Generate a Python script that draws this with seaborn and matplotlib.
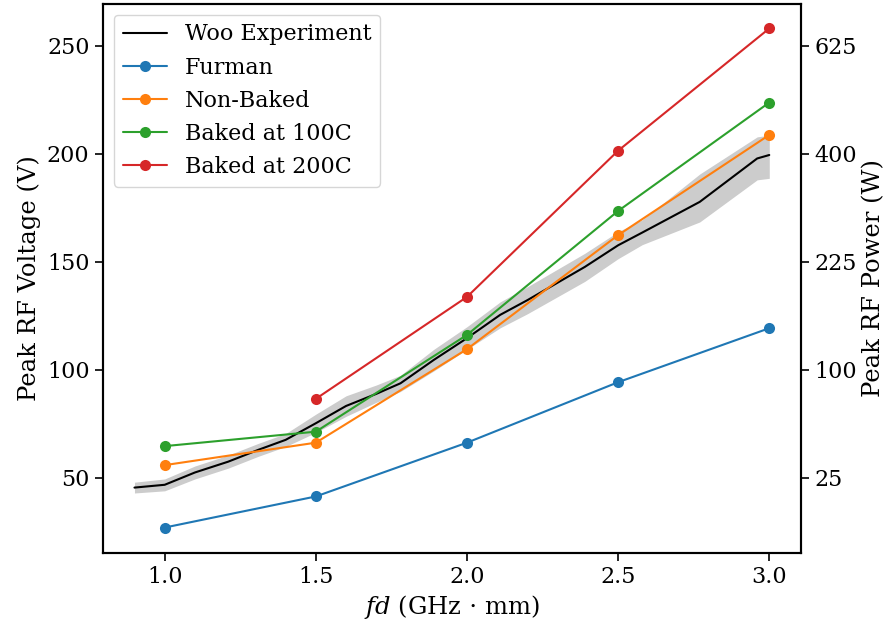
import matplotlib
matplotlib.use("Agg")
import matplotlib.pyplot as plt
import seaborn as sns
import numpy as np
import pandas as pd

# ---- data ----
fd_points = [1.0, 1.5, 2.0, 2.5, 3.0]
furman = [27.0, 41.4, 66.3, 94.3, 119.3]
non_baked = [55.9, 66.3, 109.6, 162.4, 208.8]
baked_100 = [64.7, 71.4, 116.2, 173.6, 223.8]
baked_200_fd = [1.5, 2.0, 2.5, 3.0]
baked_200 = [86.6, 133.8, 201.5, 258.1]

woo_fd = [0.9, 1.0, 1.1, 1.21, 1.31, 1.40, 1.5, 1.6, 1.70, 1.78, 1.89, 2.0,
          2.11, 2.2, 2.39, 2.5, 2.58, 2.77, 2.96, 3.0]
woo_v = [45.5, 46.8, 52.5, 57.5, 63.0, 67.6, 75.3, 83.3, 88.9, 93.8, 104.6, 114.7,
         125.5, 132.3, 147.7, 157.7, 163.6, 177.8, 197.9, 199.5]
woo_lo = [43.0, 44.0, 49.5, 54.5, 60.0, 64.5, 71.0, 78.5, 85.0, 90.0, 99.5, 109.5,
          119.5, 126.0, 141.0, 151.5, 158.0, 168.5, 188.0, 188.7]
woo_hi = [48.0, 49.5, 55.5, 60.5, 66.0, 70.5, 79.5, 88.0, 93.0, 97.5, 109.5, 120.0,
          131.5, 138.5, 154.0, 164.0, 169.5, 190.7, 207.9, 208.7]

power_ticks_v = [50, 100, 150, 200, 250]
power_labels = ["25", "100", "225", "400", "625"]

# ---- style ----
sns.set_theme(style="ticks")
plt.rcParams["font.family"] = ["DejaVu Serif"]
plt.rcParams["mathtext.fontset"] = "dejavuserif"
fs_tick = 16
fs_label = 17.5
fs_leg = 16
plt.rcParams.update({
    "axes.edgecolor": "black",
    "axes.linewidth": 1.5,
    "xtick.major.width": 1.2,
    "ytick.major.width": 1.2,
    "xtick.major.size": 6,
    "ytick.major.size": 6,
    "xtick.color": "black",
    "ytick.color": "black",
    "text.color": "black",
    "axes.labelcolor": "black",
})

fig, ax = plt.subplots(figsize=(8.91, 6.25), dpi=100)
fig.subplots_adjust(left=0.1153, right=0.899, top=0.9944, bottom=0.116)

pal = sns.color_palette("tab10")
mk = dict(marker="o", markersize=8, markeredgewidth=0, linewidth=1.5, zorder=3)

ax.fill_between(woo_fd, woo_lo, woo_hi, color="#cccccc", linewidth=0, zorder=1)
sns.lineplot(x=woo_fd, y=woo_v, ax=ax, color="black", linewidth=1.5,
             label="Woo Experiment", zorder=3)
sns.lineplot(x=fd_points, y=furman, ax=ax, color=pal[0], label="Furman", **mk)
sns.lineplot(x=fd_points, y=non_baked, ax=ax, color=pal[1], label="Non-Baked", **mk)
sns.lineplot(x=fd_points, y=baked_100, ax=ax, color=pal[2], label="Baked at 100C", **mk)
sns.lineplot(x=baked_200_fd, y=baked_200, ax=ax, color=pal[3], label="Baked at 200C", **mk)

ax.set_xticks([1.0, 1.5, 2.0, 2.5, 3.0])
ax.set_yticks(power_ticks_v)
ax.tick_params(labelsize=fs_tick)
ax.set_xlabel(r"$fd$ (GHz $\cdot$ mm)", fontsize=fs_label)
ax.set_ylabel("Peak RF Voltage (V)", fontsize=fs_label)
for s in ax.spines.values():
    s.set_visible(True)

ax2 = ax.twinx()
ax2.set_ylim(ax.get_ylim())
ax2.set_yticks(power_ticks_v)
ax2.set_yticklabels(power_labels)
ax2.tick_params(labelsize=fs_tick)
ax2.set_ylabel("Peak RF Power (W)", fontsize=fs_label)

leg = ax.legend(loc="upper left", fontsize=fs_leg, frameon=True)

fig.savefig("out.png", dpi=100)
